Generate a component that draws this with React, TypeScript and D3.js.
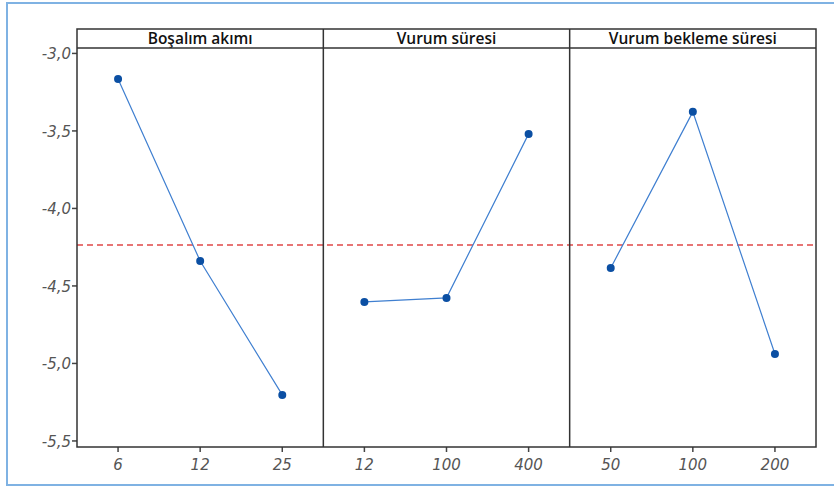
import React, { useEffect, useRef } from 'react';
import * as d3 from 'd3';

// panels and their levels
const panelTitles = ["Boşalım akımı", "Vurum süresi", "Vurum bekleme süresi"];
const levels1 = ["6", "12", "25"];
const levels2 = ["12", "100", "400"];
const levels3 = ["50", "100", "200"];
const means1 = [-3.165, -4.339, -5.203];
const means2 = [-4.603, -4.577, -3.519];
const means3 = [-4.384, -3.377, -4.939];
const grandMean = -4.236;
const yTicks = [-3.0, -3.5, -4.0, -4.5, -5.0, -5.5];

const App = () => {
    const ref = useRef<SVGSVGElement>(null);

    useEffect(() => {
        const svg = d3.select(ref.current);
        svg.selectAll("*").remove();

        const left = 77, right = 816, top = 29, headerBottom = 48, bottom = 447;
        const panelW = (right - left) / 3;

        // outer frame
        svg.append("rect")
            .attr("x", 7).attr("y", 3)
            .attr("width", 840).attr("height", 482)
            .attr("fill", "white")
            .attr("stroke", "#7fb2e3")
            .attr("stroke-width", 2);

        const y = d3.scaleLinear()
            .domain([-5.539, -2.965])
            .range([bottom, headerBottom]);

        // y axis ticks & labels
        const yAxis = svg.append("g");
        yTicks.forEach(t => {
            yAxis.append("line")
                .attr("x1", left - 5).attr("x2", left)
                .attr("y1", y(t)).attr("y2", y(t))
                .attr("stroke", "#444").attr("stroke-width", 1.5);
            yAxis.append("text")
                .attr("x", left - 6).attr("y", y(t) + 6)
                .attr("text-anchor", "end")
                .attr("font-family", "DejaVu Sans")
                .attr("font-style", "italic")
                .attr("font-size", 15)
                .attr("fill", "#555")
                .text(t.toFixed(1).replace(".", ","));
        });

        // grand mean dashed line
        svg.append("line")
            .attr("x1", left).attr("x2", right)
            .attr("y1", y(grandMean)).attr("y2", y(grandMean))
            .attr("stroke", "#e04848")
            .attr("stroke-width", 1.5)
            .attr("stroke-dasharray", "6,4");

        const allLevels = [levels1, levels2, levels3];
        const allMeans = [means1, means2, means3];

        allLevels.forEach((levels, i) => {
            const x0 = left + i * panelW;
            const x = d3.scalePoint<string>()
                .domain(levels)
                .range([x0, x0 + panelW])
                .padding(0.5);

            const g = svg.append("g");

            g.append("text")
                .attr("x", x0 + panelW / 2)
                .attr("y", top + 15)
                .attr("text-anchor", "middle")
                .attr("font-family", "Open Sans")
                .attr("font-weight", 600)
                .attr("font-size", 15.5)
                .attr("fill", "#111")
                .text(panelTitles[i]);

            levels.forEach(l => {
                g.append("line")
                    .attr("x1", x(l)).attr("x2", x(l))
                    .attr("y1", bottom).attr("y2", bottom + 5)
                    .attr("stroke", "#444").attr("stroke-width", 1.5);
                g.append("text")
                    .attr("x", x(l)).attr("y", bottom + 23)
                    .attr("text-anchor", "middle")
                    .attr("font-family", "DejaVu Sans")
                    .attr("font-style", "italic")
                    .attr("font-size", 15)
                    .attr("fill", "#555")
                    .text(l);
            });

            const line = d3.line<number>()
                .x((d, j) => x(levels[j]) as number)
                .y(d => y(d));

            g.append("path")
                .datum(allMeans[i])
                .attr("d", line)
                .attr("fill", "none")
                .attr("stroke", "#3f7fd0")
                .attr("stroke-width", 1.2);

            g.selectAll("circle")
                .data(allMeans[i])
                .enter()
                .append("circle")
                .attr("cx", (d, j) => x(levels[j]) as number)
                .attr("cy", d => y(d))
                .attr("r", 4)
                .attr("fill", "#0b4fa3");

            if (i > 0) {
                svg.append("line")
                    .attr("x1", x0).attr("x2", x0)
                    .attr("y1", top).attr("y2", bottom)
                    .attr("stroke", "#333").attr("stroke-width", 1.5);
            }
        });

        // panel frame + header line
        svg.append("rect")
            .attr("x", left).attr("y", top)
            .attr("width", right - left).attr("height", bottom - top)
            .attr("fill", "none")
            .attr("stroke", "#333").attr("stroke-width", 1.5);
        svg.append("line")
            .attr("x1", left).attr("x2", right)
            .attr("y1", headerBottom).attr("y2", headerBottom)
            .attr("stroke", "#333").attr("stroke-width", 1.5);
    }, []);

    return (
        <svg ref={ref} width={834} height={487}
            style={{ position: "absolute", left: 0, top: 0 }}></svg>
    );
};

export default App;
